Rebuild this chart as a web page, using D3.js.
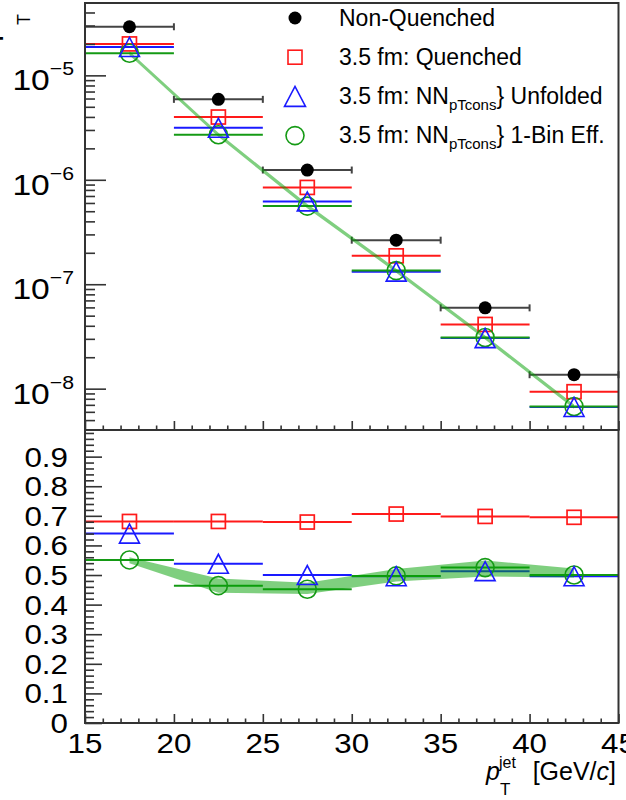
<!DOCTYPE html>
<html><head><meta charset="utf-8">
<script src="https://cdn.jsdelivr.net/npm/d3@7"></script>
<style>
body{margin:0;background:#fff;overflow:hidden}
svg{display:block}
text{font-family:"Liberation Sans",Arial,Helvetica,sans-serif}
</style></head>
<body><svg id="c" width="626" height="800"></svg>
<script>
// ---------- data ----------
const binLow    = [15, 20, 25, 30, 35, 40];
const binHigh   = [20, 25, 30, 35, 40, 45];
const binCenter = [17.5, 22.5, 27.5, 32.5, 37.5, 42.5];

// upper panel: spectra
const nonQuenched = [2.92e-5, 5.89e-6, 1.24e-6, 2.64e-7, 5.94e-8, 1.36e-8];
const quenched    = [2.00e-5, 3.99e-6, 8.45e-7, 1.87e-7, 4.12e-8, 9.35e-9];
const unfolded    = [1.87e-5, 3.15e-6, 6.21e-7, 1.32e-7, 3.05e-8, 6.68e-9];
const oneBinEff   = [1.63e-5, 2.70e-6, 5.60e-7, 1.35e-7, 3.09e-8, 6.74e-9];
const oneBinBandLo = [1.56e-5, 2.58e-6, 5.35e-7, 1.29e-7, 2.95e-8, 6.44e-9];
const oneBinBandHi = [1.70e-5, 2.82e-6, 5.85e-7, 1.41e-7, 3.23e-8, 7.04e-9];

// lower panel: ratios
const ratioQuenched = [0.681, 0.681, 0.679, 0.706, 0.698, 0.695];
const ratioUnfolded = [0.640, 0.538, 0.500, 0.496, 0.513, 0.496];
const ratioOneBin   = [0.551, 0.464, 0.452, 0.497, 0.525, 0.500];
const ratioBandLo   = [0.540, 0.440, 0.436, 0.478, 0.495, 0.492];
const ratioBandHi   = [0.560, 0.488, 0.474, 0.520, 0.549, 0.522];

// ticks / labels
const xTickValues = [15, 20, 25, 30, 35, 40, 45];
const logTickExps = [-5, -6, -7, -8];
const ratioTickValues = [0, 0.1, 0.2, 0.3, 0.4, 0.5, 0.6, 0.7, 0.8, 0.9];
const ratioTickLabels = ["0", "0.1", "0.2", "0.3", "0.4", "0.5", "0.6", "0.7", "0.8", "0.9"];

const legendEntries = [
  {key: "nq", main: "Non-Quenched"},
  {key: "q",  main: "3.5 fm: Quenched"},
  {key: "u",  main: "3.5 fm: NN", sub: "pTcons", tail: "} Unfolded"},
  {key: "e",  main: "3.5 fm: NN", sub: "pTcons", tail: "} 1-Bin Eff."}
];

// ---------- style ----------
const C = {black: "#000", err: "#444", red: "#ff1a1a", blue: "#1a1aff", green: "#149a14", band: "rgb(0,160,0)", axis: "#333"};
const L = 85, R = 618.5, TOP = 3, MID = 430, BOT = 723;

const svg = d3.select("#c");
const x = d3.scaleLinear().domain([15, 45]).range([L, R]);
const yTop = d3.scaleLog().domain([4.02e-9, 4.93e-5]).range([MID, TOP]);
const yBot = d3.scaleLinear().domain([0, 0.99]).range([BOT, MID]);

const idx = d3.range(binCenter.length);

// ---------- helpers ----------
function hLines(g, yScale, vals, color, width) {
  g.selectAll(null).data(idx).enter().append("line")
    .attr("x1", i => x(binLow[i])).attr("x2", i => x(binHigh[i]))
    .attr("y1", i => yScale(vals[i])).attr("y2", i => yScale(vals[i]))
    .attr("stroke", color).attr("stroke-width", width);
}
function band(g, yScale, lo, hi) {
  const area = d3.area().x(i => x(binCenter[i])).y0(i => yScale(lo[i])).y1(i => yScale(hi[i]));
  g.append("path").datum(idx).attr("d", area).attr("fill", C.band).attr("fill-opacity", 0.5);
}
function squares(g, yScale, vals, s) {
  g.selectAll(null).data(idx).enter().append("rect")
    .attr("x", i => x(binCenter[i]) - s / 2).attr("y", i => yScale(vals[i]) - s / 2)
    .attr("width", s).attr("height", s).attr("fill", "none")
    .attr("stroke", C.red).attr("stroke-width", 1.7);
}
function triPath(cx, cy, w, h) {
  return `M${cx - w / 2},${cy + h / 2}L${cx + w / 2},${cy + h / 2}L${cx},${cy - h / 2}Z`;
}
function triangles(g, yScale, vals) {
  g.selectAll(null).data(idx).enter().append("path")
    .attr("d", i => triPath(x(binCenter[i]), yScale(vals[i]), 20, 19))
    .attr("fill", "none").attr("stroke", C.blue).attr("stroke-width", 1.6);
}
function circles(g, yScale, vals) {
  g.selectAll(null).data(idx).enter().append("circle")
    .attr("cx", i => x(binCenter[i])).attr("cy", i => yScale(vals[i])).attr("r", 9)
    .attr("fill", "none").attr("stroke", C.green).attr("stroke-width", 1.6);
}

// ---------- upper panel ----------
const up = svg.append("g");
hLines(up, yTop, nonQuenched, C.err, 2);
up.selectAll(null).data(idx.flatMap(i => [[i, binLow[i]], [i, binHigh[i]]])).enter().append("line")
  .attr("x1", d => x(d[1])).attr("x2", d => x(d[1]))
  .attr("y1", d => yTop(nonQuenched[d[0]]) - 3.5).attr("y2", d => yTop(nonQuenched[d[0]]) + 3.5)
  .attr("stroke", C.err).attr("stroke-width", 2);
hLines(up, yTop, quenched, C.red, 2);
hLines(up, yTop, unfolded, C.blue, 2);
hLines(up, yTop, oneBinEff, C.green, 2);
band(up, yTop, oneBinBandLo, oneBinBandHi);
up.selectAll(null).data(idx).enter().append("circle")
  .attr("cx", i => x(binCenter[i])).attr("cy", i => yTop(nonQuenched[i])).attr("r", 6.5).attr("fill", C.black);
squares(up, yTop, quenched, 14);
circles(up, yTop, oneBinEff);
triangles(up, yTop, unfolded);

// ---------- lower panel ----------
const lo = svg.append("g");
hLines(lo, yBot, ratioQuenched, C.red, 2);
hLines(lo, yBot, ratioUnfolded, C.blue, 2);
hLines(lo, yBot, ratioOneBin, C.green, 2);
band(lo, yBot, ratioBandLo, ratioBandHi);
squares(lo, yBot, ratioQuenched, 14);
circles(lo, yBot, ratioOneBin);
triangles(lo, yBot, ratioUnfolded);

// ---------- axes ----------
function styleAxis(g) {
  g.select(".domain").remove();
  g.selectAll("line").attr("stroke", C.axis).attr("stroke-width", 1.6);
  g.selectAll("text").remove();
}
const xMinor = d3.range(15, 46, 1).filter(v => v % 5 !== 0);
[MID, BOT].forEach(yy => {
  svg.append("g").attr("transform", `translate(0,${yy})`)
    .call(d3.axisBottom(x).tickValues(xTickValues).tickSize(-9)).call(styleAxis);
  svg.append("g").attr("transform", `translate(0,${yy})`)
    .call(d3.axisBottom(x).tickValues(xMinor).tickSize(-4.5)).call(styleAxis);
});
const logMinor = [];
for (let e = -9; e <= -5; e++) for (let m = 2; m <= 9; m++) {
  const v = m * Math.pow(10, e);
  if (v > 4.05e-9 && v < 4.9e-5) logMinor.push(v);
}
svg.append("g").attr("transform", `translate(${L},0)`)
  .call(d3.axisLeft(yTop).tickValues(logTickExps.map(e => Math.pow(10, e))).tickSize(-21)).call(styleAxis);
svg.append("g").attr("transform", `translate(${L},0)`)
  .call(d3.axisLeft(yTop).tickValues(logMinor).tickSize(-10)).call(styleAxis);
const ratioMinor = d3.range(1, 50).map(k => k * 0.02).filter(v => Math.abs(v * 10 - Math.round(v * 10)) > 1e-6);
svg.append("g").attr("transform", `translate(${L},0)`)
  .call(d3.axisLeft(yBot).tickValues(ratioTickValues).tickSize(-17)).call(styleAxis);
svg.append("g").attr("transform", `translate(${L},0)`)
  .call(d3.axisLeft(yBot).tickValues(ratioMinor).tickSize(-9)).call(styleAxis);

[[TOP, MID], [MID, BOT]].forEach(([a, b]) => {
  svg.append("rect").attr("x", L).attr("y", a).attr("width", R - L).attr("height", b - a)
    .attr("fill", "none").attr("stroke", C.axis).attr("stroke-width", 2);
});

// ---------- tick labels ----------
const SX = 1.12;
xTickValues.forEach(v => {
  svg.append("text").attr("transform", `translate(${x(v)},753) scale(${SX},1)`)
    .attr("text-anchor", "middle").attr("font-size", 28).attr("fill", "#000").text(v);
});
ratioTickValues.forEach((v, i) => {
  svg.append("text").attr("transform", `translate(68,${yBot(v) + 10}) scale(${SX},1)`)
    .attr("text-anchor", "end").attr("font-size", 28).attr("fill", "#000").text(ratioTickLabels[i]);
});
logTickExps.forEach(e => {
  const t = svg.append("text").attr("transform", `translate(74,${yTop(Math.pow(10, e)) + 15}) scale(${SX},1)`)
    .attr("text-anchor", "end").attr("fill", "#000");
  t.append("tspan").attr("font-size", 30).text("10");
  t.append("tspan").attr("font-size", 19).attr("dy", -15).text("\u2212" + Math.abs(e));
});

// ---------- axis titles ----------
const xt = svg.append("g");
xt.append("text").attr("x", 616).attr("y", 780).attr("text-anchor", "end").attr("font-size", 25)
  .html('[GeV/<tspan font-style="italic">c</tspan>]');
xt.append("text").attr("x", 500).attr("y", 780).attr("text-anchor", "end").attr("font-size", 25)
  .attr("font-style", "italic").text("p");
xt.append("text").attr("x", 499).attr("y", 768).attr("font-size", 16).text("jet");
xt.append("text").attr("x", 500).attr("y", 795).attr("font-size", 17).text("T");

// upper y title: only its subscript end shows inside the canvas, as in the reference
svg.append("text").attr("transform", "translate(30,25) rotate(-90)").attr("text-anchor", "start")
  .attr("font-size", 18).attr("fill", "#000").text("T");
svg.append("text").attr("transform", "translate(-3,25) rotate(-90)").attr("text-anchor", "end")
  .attr("font-size", 30).attr("fill", "#000").text("1/N dN/dp");

// ---------- legend ----------
const lg = svg.append("g");
legendEntries.forEach((d, i) => {
  const cy = 18 + i * 39.2, base = cy + 7.5;
  const mx = 295;
  if (d.key === "nq") lg.append("circle").attr("cx", mx).attr("cy", cy).attr("r", 6.5).attr("fill", C.black);
  if (d.key === "q") lg.append("rect").attr("x", mx - 7).attr("y", cy - 7).attr("width", 14).attr("height", 14)
    .attr("fill", "none").attr("stroke", C.red).attr("stroke-width", 1.6);
  if (d.key === "u") lg.append("path").attr("d", triPath(mx, cy, 21, 20)).attr("fill", "none")
    .attr("stroke", C.blue).attr("stroke-width", 1.6);
  if (d.key === "e") lg.append("circle").attr("cx", mx).attr("cy", cy).attr("r", 9).attr("fill", "none")
    .attr("stroke", C.green).attr("stroke-width", 1.6);
  const t = lg.append("text").attr("x", 339).attr("y", base).attr("font-size", 23).attr("fill", "#000");
  t.append("tspan").text(d.main);
  if (d.sub) {
    t.append("tspan").attr("font-size", 15).attr("dy", 6).text(d.sub);
    t.append("tspan").attr("dy", -6).text(d.tail);
  }
});
</script></body></html>
